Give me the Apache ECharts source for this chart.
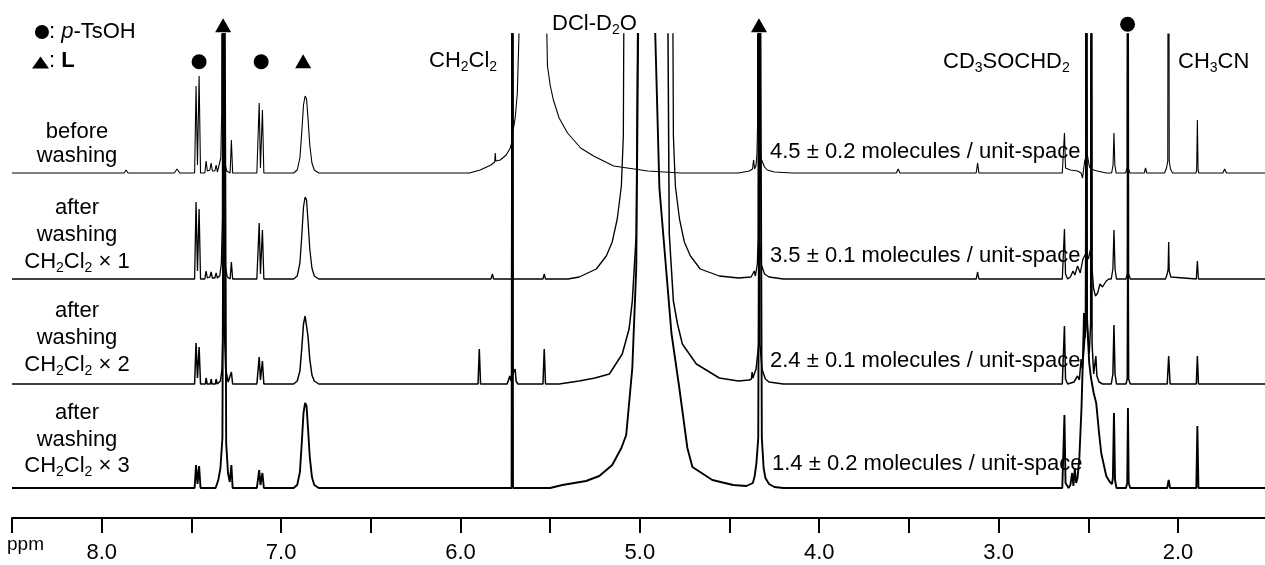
<!DOCTYPE html>
<html><head><meta charset="utf-8">
<script src="https://cdn.jsdelivr.net/npm/echarts@6/dist/echarts.min.js"></script>
<style>html,body{margin:0;padding:0;background:#fff}#c{width:1265px;height:565px}</style>
</head><body><div id="c"></div>
<script>
// ---------------- DATA ----------------
// x axis: chemical shift (ppm)
const axisRange = [1.515, 8.5];
const tickPpm = [8.5, 8.0, 7.5, 7.0, 6.5, 6.0, 5.5, 5.0, 4.5, 4.0, 3.5, 3.0, 2.5, 2.0];
const tickLabels = ['8.0', '7.0', '6.0', '5.0', '4.0', '3.0', '2.0'];

// each trace: [ppm, intensity above its own baseline]; intensities >= 600 run off the top
const traceBefore = [
  [8.5,0],[7.875,0],[7.864,3],[7.853,0],[7.595,0],[7.580,4],[7.565,0],
  [7.482,0],[7.474,87],[7.466,8],[7.457,97],[7.449,0],
  [7.425,0],[7.418,12],[7.411,2],[7.397,3],[7.390,10],[7.383,2],[7.369,2],[7.362,8],[7.355,1],
  [7.345,3],[7.336,15],[7.331,60],[7.328,600],[7.325,60],[7.317,12],[7.303,2],
  [7.284,0],[7.277,33],[7.270,0],
  [7.135,0],[7.122,70],[7.115,5],[7.104,63],[7.096,0],
  [6.930,0],[6.910,3],[6.895,15],[6.885,40],[6.875,68],[6.866,77],[6.858,74],[6.850,55],[6.840,28],[6.828,10],[6.815,3],[6.790,0],
  [5.950,0],[5.890,3],[5.830,8],[5.809,11],[5.806,20],[5.803,12],[5.778,13],[5.745,18],[5.722,25],[5.715,30],[5.711,600],[5.707,42],[5.695,55],[5.683,80],[5.672,150],[5.663,300],[5.658,600],
  [5.537,600],[5.525,200],[5.515,107],[5.500,88],[5.482,73],[5.450,55],[5.403,40],[5.330,25],[5.258,17],[5.146,7],[4.956,2],[4.772,0],
  [4.450,0],[4.390,2],[4.372,4],[4.366,13],[4.360,4],[4.352,8],[4.347,20],[4.344,45],[4.342,600],[4.339,60],[4.326,15],[4.305,6],[4.290,3],[4.250,1],[4.150,0],
  [3.570,0],[3.560,4],[3.550,0],[3.125,0],[3.117,10],[3.110,0],
  [2.645,0],[2.633,40],[2.627,5],[2.600,3],[2.560,2],[2.540,0],[2.532,-5],[2.526,4],[2.520,12],[2.515,15],[2.511,600],[2.507,20],[2.496,8],[2.490,5],[2.470,3],[2.450,2],[2.400,0],
  [2.370,0],[2.362,8],[2.357,40],[2.352,8],[2.345,0],
  [2.292,0],[2.284,5],[2.281,600],[2.278,5],[2.268,0],
  [2.188,0],[2.181,5],[2.174,0],
  [2.075,0],[2.064,5],[2.057,12],[2.053,600],[2.049,12],[2.042,4],[2.030,0],
  [1.900,0],[1.896,3],[1.892,53],[1.888,3],[1.884,0],
  [1.750,0],[1.740,4],[1.730,0],[1.500,0]
];
const traceWash1 = [
  [8.5,0],
  [7.482,0],[7.474,77],[7.466,8],[7.457,70],[7.449,0],
  [7.425,0],[7.418,8],[7.411,1],[7.397,2],[7.390,7],[7.383,1],[7.369,1],[7.362,6],[7.355,1],
  [7.342,3],[7.333,15],[7.327,60],[7.324,600],[7.321,60],[7.313,15],[7.300,2],
  [7.284,0],[7.277,17],[7.270,0],
  [7.135,0],[7.122,56],[7.115,5],[7.104,49],[7.096,0],
  [6.930,0],[6.910,3],[6.895,16],[6.885,42],[6.875,72],[6.866,82],[6.858,79],[6.850,58],[6.840,30],[6.828,11],[6.815,3],[6.790,0],
  [5.830,0],[5.822,5],[5.815,0],[5.715,0],[5.711,600],[5.707,0],[5.540,0],[5.533,5],[5.526,0],
  [5.400,0],[5.338,2],[5.243,10],[5.187,23],[5.154,37],[5.126,60],[5.103,93],[5.092,143],[5.081,600],
  [4.824,600],[4.813,143],[4.802,93],[4.779,60],[4.752,37],[4.718,23],[4.663,10],[4.557,3],[4.450,1],
  [4.380,2],[4.362,8],[4.356,3],[4.345,15],[4.341,40],[4.338,600],[4.335,40],[4.322,14],[4.305,5],[4.280,2],[4.200,0],
  [3.125,0],[3.117,7],[3.110,0],
  [2.645,0],[2.633,50],[2.627,5],[2.615,0],[2.600,2],[2.585,8],[2.575,4],[2.560,13],[2.545,6],[2.530,20],
  [2.515,25],[2.500,20],[2.487,30],[2.483,600],[2.479,10],[2.470,-10],[2.460,-17],[2.448,-14],[2.435,-5],[2.421,-8],[2.400,-2],[2.385,0],
  [2.372,0],[2.363,10],[2.357,49],[2.351,10],[2.343,0],
  [2.290,0],[2.283,5],[2.279,600],[2.275,5],[2.266,0],
  [2.070,0],[2.060,5],[2.055,10],[2.052,37],[2.049,8],[2.040,2],[2.030,0],
  [1.898,0],[1.892,18],[1.886,0],[1.500,0]
];
const traceWash2 = [
  [8.5,0],
  [7.482,0],[7.474,41],[7.466,6],[7.457,37],[7.449,0],
  [7.422,0],[7.418,6],[7.412,0],[7.394,0],[7.390,5],[7.385,0],[7.366,0],[7.362,5],[7.356,0],
  [7.338,3],[7.329,15],[7.323,60],[7.320,600],[7.317,60],[7.309,15],[7.295,2],
  [7.284,0],[7.277,12],[7.270,0],
  [7.135,0],[7.122,27],[7.115,4],[7.104,23],[7.096,0],
  [6.930,0],[6.910,3],[6.895,13],[6.885,35],[6.875,60],[6.866,68],[6.858,66],[6.850,48],[6.840,25],[6.828,9],[6.815,3],[6.790,0],
  [5.902,0],[5.895,35],[5.888,0],
  [5.740,0],[5.725,8],[5.718,3],[5.714,10],[5.711,600],[5.708,10],[5.695,15],[5.690,3],[5.680,0],
  [5.540,0],[5.533,35],[5.526,0],
  [5.450,0],[5.338,3],[5.250,6],[5.170,10],[5.098,30],[5.060,55],[5.042,83],[5.020,150],[5.003,600],
  [4.852,600],[4.836,150],[4.813,83],[4.790,60],[4.763,40],[4.685,20],[4.557,6],[4.450,3],[4.390,4],
  [4.378,5],[4.374,12],[4.370,6],[4.352,15],[4.337,40],[4.334,600],[4.331,40],[4.318,14],[4.300,5],[4.280,2],[4.200,0],
  [2.645,0],[2.633,58],[2.627,5],[2.615,0],[2.580,2],[2.560,8],[2.550,4],[2.540,25],[2.533,15],
  [2.522,40],[2.515,60],[2.511,600],[2.507,60],[2.495,30],[2.487,60],[2.483,600],[2.479,40],[2.470,10],[2.464,8],[2.458,28],[2.452,8],[2.440,2],[2.420,0],
  [2.372,0],[2.363,10],[2.357,59],[2.351,10],[2.343,0],
  [2.290,0],[2.283,5],[2.279,200],[2.275,5],[2.266,0],
  [2.060,0],[2.052,28],[2.044,0],
  [1.898,0],[1.892,28],[1.886,0],[1.500,0]
];
const traceWash3 = [
  [8.5,0],
  [7.482,0],[7.474,23],[7.466,4],[7.457,22],[7.449,0],
  [7.365,0],[7.350,8],[7.338,20],[7.327,50],[7.316,600],[7.306,45],[7.296,15],[7.286,6],[7.277,23],[7.270,0],
  [7.135,0],[7.122,18],[7.115,3],[7.104,15],[7.096,0],
  [6.930,0],[6.910,3],[6.895,16],[6.885,44],[6.875,75],[6.866,85],[6.858,82],[6.850,60],[6.840,31],[6.828,11],[6.815,3],[6.790,0],
  [5.715,0],[5.711,600],[5.707,0],
  [5.500,0],[5.432,3],[5.300,7],[5.226,12],[5.154,23],[5.103,40],[5.076,53],[5.042,120],[5.020,220],[5.003,600],
  [4.936,600],[4.891,300],[4.824,155],[4.780,100],[4.735,40],[4.707,21],[4.596,8],[4.480,3],[4.406,2],
  [4.370,5],[4.360,12],[4.350,25],[4.340,50],[4.330,600],[4.320,50],[4.310,20],[4.300,10],[4.280,4],[4.250,1],[4.200,0],
  [2.645,0],[2.633,73],[2.627,5],[2.610,0],[2.600,3],[2.590,15],[2.583,2],[2.575,20],[2.568,5],[2.560,10],[2.550,30],[2.538,80],
  [2.530,130],[2.524,175],[2.518,150],[2.514,180],[2.511,600],[2.507,170],[2.495,125],[2.485,110],[2.470,95],[2.456,85],[2.440,55],[2.428,35],[2.400,12],[2.380,6],[2.368,4],
  [2.363,10],[2.357,75],[2.351,8],[2.343,0],
  [2.290,0],[2.283,5],[2.279,80],[2.275,5],[2.266,0],
  [2.060,0],[2.052,8],[2.044,0],
  [1.898,0],[1.892,62],[1.886,0],[1.500,0]
];
const traces = [traceBefore, traceWash1, traceWash2, traceWash3];
const traceLabels = [
  ['before', 'washing'],
  ['after', 'washing', 'CH2Cl2 × 1'],
  ['after', 'washing', 'CH2Cl2 × 2'],
  ['after', 'washing', 'CH2Cl2 × 3']
];
const amounts = ['4.5 ± 0.2', '3.5 ± 0.1', '2.4 ± 0.1', '1.4 ± 0.2'];
const tsohPeaks = [7.457, 7.111, 2.281];   // ● p-TsOH
const lPeaks = [7.323, 6.877, 4.336];      // ▲ L

// ---------------- LAYOUT / STYLE ----------------
const FONT = '"Liberation Sans", Arial, Helvetica, sans-serif';
const FS = 22;
const baselineLevel = [345, 239, 134, 30];   // y-axis value of each trace's baseline
const lineWidths = [1.1, 1.3, 1.5, 1.9];
const tsohLevel = [456.3, 456.3, 493.8];
const lLevel = [492.7, 456.7, 492.7];
const labelBaselines = [[140, 164], [216, 243, 270], [319, 346, 373], [421, 448, 474]];
const amountBaselines = [160, 263.5, 368.5, 472];

const chart = echarts.init(document.getElementById('c'), null, {renderer: 'canvas'});

function subRich(lh) {
  return {
    n: {fontSize: FS, fontFamily: FONT, fill: '#000', lineHeight: lh},
    s: {fontSize: 14, fontFamily: FONT, fill: '#000', lineHeight: lh - 9, verticalAlign: 'bottom'}
  };
}
function chem(str) { // digits become subscripts, except the "× n" count
  let out = '';
  str.split(/(× \d+)/).forEach(p => {
    if (!p) return;
    if (/^× \d+$/.test(p)) { out += '{n|' + p + '}'; return; }
    p.split(/(\d+)/).forEach(q => {
      if (!q) return;
      out += /^\d+$/.test(q) ? '{s|' + q + '}' : '{n|' + q + '}';
    });
  });
  return out;
}
function txt(x, baseline, text, align, rich) {
  const el = {
    type: 'text', x: x, y: baseline - 0.35 * FS, silent: true,
    style: {text: text, fill: '#000', font: FS + 'px ' + FONT, align: align || 'left', verticalAlign: 'middle'}
  };
  if (rich) { el.style.rich = subRich(26); }
  return el;
}

const graphics = [];
traceLabels.forEach((lines, i) => {
  lines.forEach((ln, j) => {
    const hasChem = /\d/.test(ln);
    graphics.push(txt(77, labelBaselines[i][j], hasChem ? chem(ln) : ln, 'center', hasChem));
  });
});
amounts.forEach((a, i) => {
  graphics.push(txt(i === 3 ? 772 : 770, amountBaselines[i], a + ' molecules / unit-space', 'left'));
});
graphics.push(txt(429, 68.5, chem('CH2Cl2'), 'left', true));
graphics.push(txt(552, 32, chem('DCl-D2O'), 'left', true));
graphics.push(txt(943, 70, chem('CD3SOCHD2'), 'left', true));
graphics.push(txt(1178, 70, chem('CH3CN'), 'left', true));
graphics.push({type: 'text', x: 7, y: 551 - 0.35 * 19, silent: true,
  style: {text: 'ppm', fill: '#000', font: '19px ' + FONT, align: 'left', verticalAlign: 'middle'}});

const legendRich = {
  c: {fontSize: FS, fontFamily: FONT, color: '#000'},
  i: {fontSize: FS, fontFamily: FONT, color: '#000', fontStyle: 'italic'},
  b: {fontSize: FS, fontFamily: FONT, color: '#000', fontWeight: 'bold'}
};

const series = traces.map((t, i) => ({
  type: 'line', name: traceLabels[i].join(' '),
  data: t.map(d => [d[0], d[1] + baselineLevel[i]]),
  showSymbol: false, symbol: 'none', smooth: false, clip: true, sampling: null,
  lineStyle: {color: '#000', width: lineWidths[i]}, silent: true, z: 2
}));
series.push({
  type: 'scatter', name: 'p-TsOH', clip: false, silent: true, z: 5,
  symbol: 'circle', symbolSize: 15, itemStyle: {color: '#000', opacity: 1},
  data: tsohPeaks.map((p, i) => [p, tsohLevel[i]])
});
series.push({
  type: 'scatter', name: 'L', clip: false, silent: true, z: 5,
  symbol: 'triangle', symbolSize: [16, 14], itemStyle: {color: '#000', opacity: 1},
  data: lPeaks.map((p, i) => [p, lLevel[i]])
});
// legend key (top-left)
series.push({
  type: 'scatter', name: 'key', clip: false, silent: true, z: 5,
  itemStyle: {color: '#000', opacity: 1},
  label: {show: true, position: 'right', distance: 0, color: '#000', rich: legendRich},
  data: [
    {value: [8.333, 486], symbol: 'circle', symbolSize: 14, label: {formatter: '{c|: }{i|p}{c|-TsOH}'}},
    {value: [8.341, 455.5], symbol: 'triangle', symbolSize: [17, 12], label: {formatter: '{c|: }{b|L}', offset: [0, -2]}}
  ]
});

chart.setOption({
  animation: false,
  backgroundColor: '#fff',
  grid: {left: 12, right: 0, top: 34, bottom: 47, containLabel: false},
  xAxis: {
    type: 'value', min: axisRange[0], max: axisRange[1], inverse: true, position: 'bottom',
    axisLine: {show: true, onZero: false, lineStyle: {color: '#000', width: 2}},
    axisTick: {show: true, length: 15, customValues: tickPpm, lineStyle: {color: '#000', width: 2}},
    axisLabel: {
      show: true, margin: 24, color: '#000', fontSize: FS, fontFamily: FONT,
      customValues: tickLabels.map(Number),
      formatter: v => v.toFixed(1)
    },
    splitLine: {show: false}
  },
  yAxis: {type: 'value', min: 0, max: 484, show: false, splitLine: {show: false}},
  series: series,
  graphic: graphics
});
</script></body></html>
